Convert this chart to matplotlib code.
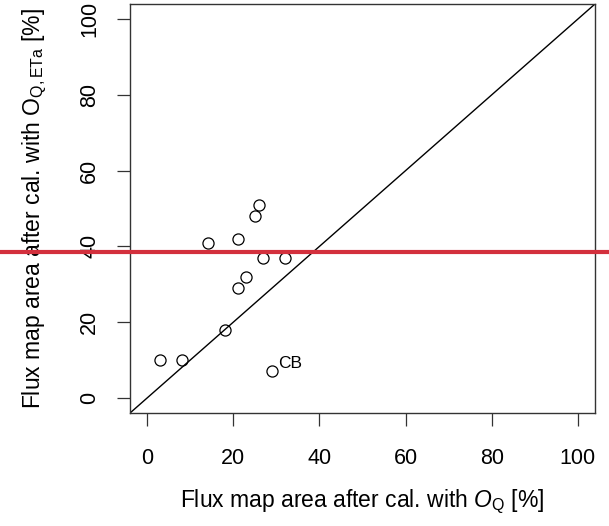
import matplotlib
matplotlib.use("Agg")
import matplotlib.pyplot as plt
from matplotlib.lines import Line2D


# flux map area [%], x: after cal. with O_Q, y: after cal. with O_Q,ETa
area_oq = [3, 8, 18, 14, 21, 25, 26, 27, 32, 23, 21, 29]
area_oq_eta = [10, 10, 18, 41, 42, 48, 51, 37, 37, 32, 29, 7]
label_text = "CB"
label_pos = (30.5, 9)
ticks = [0, 20, 40, 60, 80, 100]

plt.rcParams['font.family'] = ['Liberation Sans', 'DejaVu Sans']
plt.rcParams['mathtext.fontset'] = 'custom'
plt.rcParams['mathtext.rm'] = 'Liberation Sans'
plt.rcParams['mathtext.it'] = 'Liberation Sans:italic'

fig = plt.figure(figsize=(6.09, 5.26), dpi=100)
ax = fig.add_axes([0.2135, 0.2148, 0.977 - 0.2135, 0.9924 - 0.2148])

ax.plot(area_oq, area_oq_eta, 'o', mfc='none', mec='black',
        markersize=8, markeredgewidth=0.9)
ax.axline((0, 0), slope=1, color='black', linewidth=1)
ax.text(label_pos[0], label_pos[1], label_text, fontsize=12.5,
        va='center', ha='left')

ax.set_xlim(-4, 104)
ax.set_ylim(-4, 104)
ax.set_xticks(ticks)
ax.set_yticks(ticks)
ax.tick_params(axis='both', labelsize=15.5, length=9.5, width=0.9,
               color='#333333')
ax.tick_params(axis='x', pad=16)
ax.tick_params(axis='y', pad=12)
for lab in ax.get_yticklabels():
    lab.set_rotation(90)
    lab.set_va('center')

for sp in ax.spines.values():
    sp.set_color('#333333')
    sp.set_linewidth(1)

ax.set_xlabel(r"Flux map area after cal. with $O_\mathrm{Q}$ [%]",
              fontsize=16.5, labelpad=13)
ax.set_ylabel(r"Flux map area after cal. with $\mathrm{O}_\mathrm{Q,ETa}$ [%]",
              fontsize=16.5, labelpad=22)

# red horizontal marker across the whole figure
fig.add_artist(Line2D([0, 1], [0.521, 0.521], transform=fig.transFigure,
                      color='#d3303d', linewidth=3))

fig.savefig("out.png", dpi=100)
